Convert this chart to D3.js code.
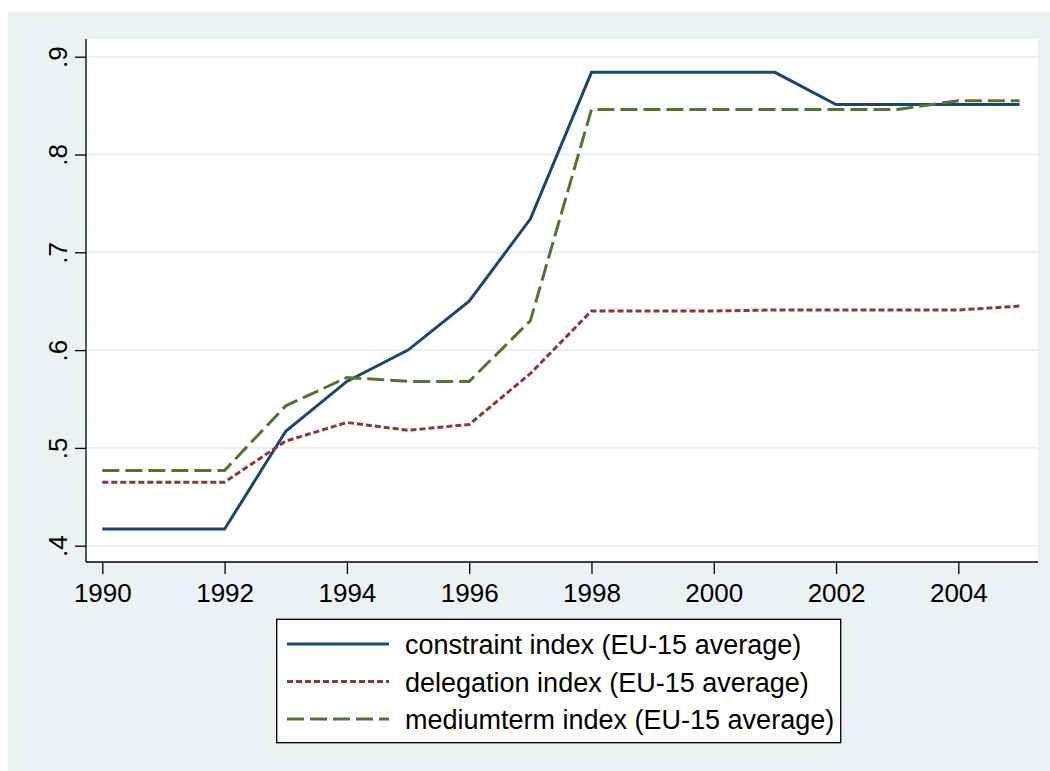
<!DOCTYPE html>
<html>
<head>
<meta charset="utf-8">
<script src="https://cdn.jsdelivr.net/npm/d3@7"></script>
<style>
  body { margin: 0; background: #fff; }
  text { font-family: "Liberation Sans", Arial, sans-serif; fill: #000; }
</style>
</head>
<body>
<div id="chart"></div>
<script>
// data
const years = [1990, 1991, 1992, 1993, 1994, 1995, 1996, 1997, 1998, 1999, 2000, 2001, 2002, 2003, 2004, 2005]
const constraint = [.417, .417, .417, .517, .568, .600, .650, .734, .884, .884, .884, .884, .851, .851, .851, .851]
const delegation = [.465, .465, .465, .507, .526, .518, .524, .576, .640, .640, .640, .641, .641, .641, .641, .645]
const mediumterm = [.477, .477, .477, .543, .572, .568, .568, .630, .846, .846, .846, .846, .846, .846, .855, .855]
const yTicks = [.4, .5, .6, .7, .8, .9]
const xTicks = [1990, 1992, 1994, 1996, 1998, 2000, 2002, 2004]
const seriesNames = ["constraint index (EU-15 average)", "delegation index (EU-15 average)", "mediumterm index (EU-15 average)"]

const W = 1050, H = 771
const plot = {left: 86, right: 1038, top: 39, bottom: 562}

const svg = d3.select("#chart").append("svg")
    .attr("width", W)
    .attr("height", H)

// outer background
svg.append("rect")
    .attr("x", 8).attr("y", 12)
    .attr("width", W - 8).attr("height", H - 12)
    .attr("fill", "#eaf2f3")

// plot region
svg.append("rect")
    .attr("x", plot.left).attr("y", plot.top)
    .attr("width", plot.right - plot.left).attr("height", plot.bottom - plot.top)
    .attr("fill", "#fff")

var x = d3.scaleLinear()
    .domain([1990, 2005])
    .range([102.3, 1019.5])

var y = d3.scaleLinear()
    .domain([.4, .9])
    .range([545.7, 56.7])

// grid lines
svg.append("g").selectAll("line")
    .data(yTicks)
    .enter()
    .append("line")
    .attr("x1", plot.left).attr("x2", plot.right)
    .attr("y1", d => y(d)).attr("y2", d => y(d))
    .attr("stroke", "#e6eff0")
    .attr("stroke-width", 1.6)

// y axis
const yAxis = svg.append("g")
    .attr("transform", "translate(" + plot.left + ",0)")
    .call(d3.axisLeft(y).tickValues(yTicks).tickSize(11).tickSizeOuter(0)
        .tickFormat(d => d3.format(".1f")(d).replace(/^0/, "")))
yAxis.select(".domain").attr("d", "M0," + plot.top + "V" + plot.bottom).attr("stroke", "#000").attr("stroke-width", 1.3)
yAxis.selectAll(".tick line").attr("stroke", "#000").attr("stroke-width", 1.3)
yAxis.selectAll(".tick text")
    .attr("x", 0).attr("y", 0).attr("dy", null)
    .attr("transform", "translate(-19,0) rotate(-90)")
    .attr("text-anchor", "middle")
    .style("font-size", "26px")
    .style("font-family", "'Liberation Sans', Arial, sans-serif")

// x axis
const xAxis = svg.append("g")
    .attr("transform", "translate(0," + plot.bottom + ")")
    .call(d3.axisBottom(x).tickValues(xTicks).tickSize(12).tickSizeOuter(0).tickFormat(d3.format("d")))
xAxis.select(".domain").attr("d", "M" + plot.left + ",0H" + plot.right).attr("stroke", "#000").attr("stroke-width", 1.3)
xAxis.selectAll(".tick line").attr("stroke", "#000").attr("stroke-width", 1.3)
xAxis.selectAll(".tick text")
    .attr("y", 40).attr("dy", null)
    .style("font-size", "26px")
    .style("font-family", "'Liberation Sans', Arial, sans-serif")

// lines
const styles = [
    {color: "#1a476f", dash: null},
    {color: "#90353b", dash: "6,3"},
    {color: "#55752f", dash: "17,6"}
]
const allSeries = [constraint, delegation, mediumterm]

const line = d3.line()
    .x((d, i) => x(years[i]))
    .y(d => y(d))

svg.append("g").selectAll("path")
    .data(allSeries)
    .enter()
    .append("path")
    .attr("d", d => line(d))
    .attr("fill", "none")
    .attr("stroke", (d, i) => styles[i].color)
    .attr("stroke-width", 3)
    .attr("stroke-dasharray", (d, i) => styles[i].dash)

// legend
const legend = svg.append("g")
legend.append("rect")
    .attr("x", 276.7).attr("y", 619.3)
    .attr("width", 564).attr("height", 123.4)
    .attr("fill", "#fff")
    .attr("stroke", "#000")
    .attr("stroke-width", 1.3)

const rowY = [644, 681.5, 719]
var item = legend.selectAll("g.item")
    .data(seriesNames)
    .enter()
    .append("g")
    .attr("class", "item")
    .attr("transform", (d, i) => "translate(0," + rowY[i] + ")")

item.append("line")
    .attr("x1", 287).attr("x2", 389)
    .attr("stroke", (d, i) => styles[i].color)
    .attr("stroke-width", 3)
    .attr("stroke-dasharray", (d, i) => styles[i].dash)

item.append("text")
    .attr("x", 405).attr("y", 10)
    .style("font-size", "27px")
    .text(d => d)
</script>
</body>
</html>
